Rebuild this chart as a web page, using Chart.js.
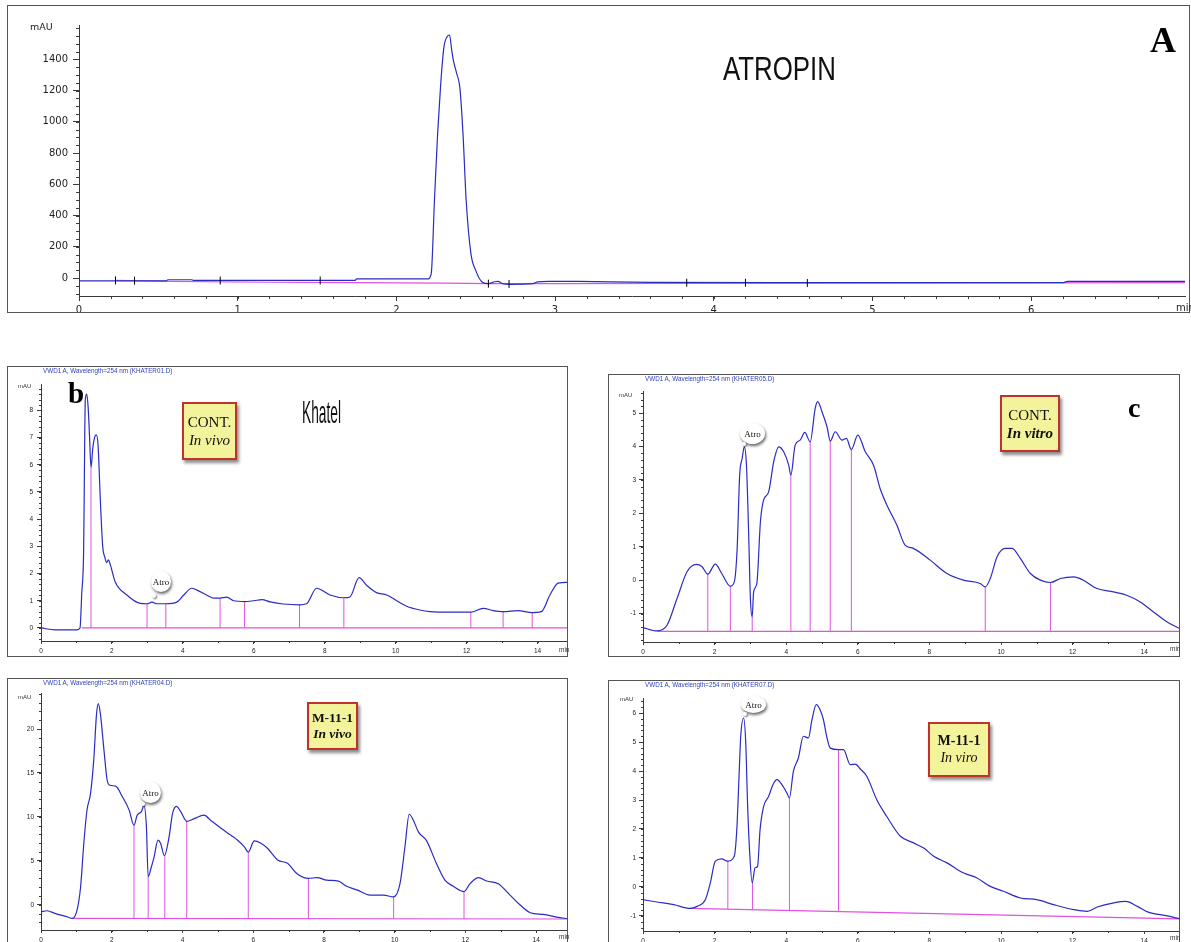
<!DOCTYPE html>
<html>
<head>
<meta charset="utf-8">
<script src="https://cdn.jsdelivr.net/npm/chart.js@4.4.1/dist/chart.umd.min.js"></script>
<style>
  html, body { margin: 0; padding: 0; background: #fff; }
  body { position: relative; width: 1191px; height: 942px; overflow: hidden; font-family: "Liberation Sans", Arial, sans-serif; }
  canvas { position: absolute; }
  .frame { position: absolute; box-sizing: border-box; border: 1.5px solid #555; pointer-events: none; }
  .txt { position: absolute; white-space: nowrap; line-height: 1; color: #111; }
  .hdr { position: absolute; white-space: nowrap; line-height: 1; font-size: 6.3px; color: #3040c0; }
  .mau { position: absolute; white-space: nowrap; line-height: 1; font-size: 6px; color: #333; }
  .unit { position: absolute; white-space: nowrap; line-height: 1; font-size: 6.5px; color: #333; }
  .letter { position: absolute; line-height: 1; font-family: "Liberation Serif", serif; font-weight: bold; color: #000; }
  .cond { position: absolute; line-height: 1; white-space: nowrap; transform-origin: left top; color: #111; }
  .tag { position: absolute; box-sizing: border-box; background: #f3f39c; border: 2px solid #c3322a;
         box-shadow: 2px 3px 3px rgba(0,0,0,.45); font-family: "Liberation Serif", serif; text-align: center;
         display: flex; flex-direction: column; justify-content: center; line-height: 1.2; color: #111; }
  .cloud { position: absolute; background: #fff; border-radius: 50%; box-shadow: 1px 2px 3px rgba(0,0,0,.6);
           font-family: "Liberation Serif", serif; font-size: 9px; display: flex; align-items: center; justify-content: center; color: #111; }
  .dot { position: absolute; width: 4px; height: 4px; border-radius: 50%; background: #fff; box-shadow: 1px 1px 2px rgba(0,0,0,.6); }
</style>
</head>
<body>

<!-- panel A -->
<canvas id="chartA" width="1183" height="308" style="left:7px;top:5px"></canvas>
<div class="frame" style="left:7px;top:5px;width:1183px;height:308px"></div>
<div class="txt" style="left:30px;top:22px;font-family:'DejaVu Sans';font-size:9.5px;color:#222">mAU</div>
<div class="txt" style="left:1176px;top:303px;font-family:'DejaVu Sans';font-size:10px;color:#222">min</div>
<div class="cond" style="left:723px;top:51px;font-size:34px;transform:scaleX(0.76)">ATROPIN</div>
<div class="letter" style="left:1150px;top:22px;font-size:36px">A</div>

<!-- panel b -->
<canvas id="chartB" width="561" height="291" style="left:7px;top:366px"></canvas>
<div class="frame" style="left:7px;top:366px;width:561px;height:291px"></div>
<div class="hdr" style="left:43px;top:368px">VWD1 A, Wavelength=254 nm (KHATER01.D)</div>
<div class="mau" style="left:18px;top:383px">mAU</div>
<div class="unit" style="left:559px;top:647px">min</div>
<div class="letter" style="left:68px;top:379px;font-size:29px">b</div>
<div class="tag" style="left:182px;top:402px;width:55px;height:58px;font-size:15px"><span>CONT.</span><i>In vivo</i></div>
<div class="cond" style="left:302px;top:396px;font-size:32px;transform:scaleX(0.43)">Khatel</div>
<div class="cloud" style="left:151px;top:571px;width:20px;height:21px">Atro</div>
<div class="dot" style="left:152px;top:594px"></div>

<!-- panel c -->
<canvas id="chartC" width="572" height="283" style="left:608px;top:374px"></canvas>
<div class="frame" style="left:608px;top:374px;width:572px;height:283px"></div>
<div class="hdr" style="left:645px;top:376px">VWD1 A, Wavelength=254 nm (KHATER05.D)</div>
<div class="mau" style="left:619px;top:392px">mAU</div>
<div class="unit" style="left:1170px;top:646px">min</div>
<div class="letter" style="left:1128px;top:394px;font-size:28px">c</div>
<div class="tag" style="left:1000px;top:395px;width:60px;height:57px;font-size:15px"><span>CONT.</span><b><i>In vitro</i></b></div>
<div class="cloud" style="left:740px;top:423px;width:25px;height:21px">Atro</div>
<div class="dot" style="left:742px;top:442px"></div>

<!-- panel d -->
<canvas id="chartD" width="561" height="280" style="left:7px;top:678px"></canvas>
<div class="frame" style="left:7px;top:678px;width:561px;height:290px"></div>
<div class="hdr" style="left:43px;top:680px">VWD1 A, Wavelength=254 nm (KHATER04.D)</div>
<div class="mau" style="left:18px;top:694px">mAU</div>
<div class="unit" style="left:559px;top:934px">min</div>
<div class="tag" style="left:307px;top:702px;width:51px;height:48px;font-size:13.5px"><b>M-11-1</b><b><i>In vivo</i></b></div>
<div class="cloud" style="left:140px;top:782px;width:21px;height:21px">Atro</div>
<div class="dot" style="left:141px;top:802px"></div>

<!-- panel e -->
<canvas id="chartE" width="572" height="280" style="left:608px;top:680px"></canvas>
<div class="frame" style="left:608px;top:680px;width:572px;height:290px"></div>
<div class="hdr" style="left:645px;top:682px">VWD1 A, Wavelength=254 nm (KHATER07.D)</div>
<div class="mau" style="left:620px;top:696px">mAU</div>
<div class="unit" style="left:1170px;top:935px">min</div>
<div class="tag" style="left:928px;top:722px;width:62px;height:55px;font-size:14px"><b>M-11-1</b><i>In viro</i></div>
<div class="cloud" style="left:741px;top:696px;width:25px;height:17px">Atro</div>
<div class="dot" style="left:743px;top:712px"></div>

<script>
// ---------- A: atropine standard ----------
const timeA = [0, 0.55, 0.56, 0.71, 0.72, 1.74, 1.75, 2.2, 2.22, 2.24,
  2.26, 2.28, 2.3, 2.32, 2.335, 2.35, 2.36, 2.38, 2.4, 2.42,
  2.44, 2.47, 2.5, 2.54, 2.58, 2.62, 2.64, 2.67, 2.72, 2.86,
  2.89, 2.96, 3.15, 3.6, 4.6, 6.2, 6.23, 6.97];
const mauA = [-18, -18, -11, -11, -15, -15, -6, -6, 30, 496,
  923, 1250, 1480, 1545, 1556, 1450, 1391, 1310, 1221, 923,
  496, 156, 49, -25, -36, -24, -21, -36, -40, -36,
  -25, -21, -22, -28, -30, -30, -22, -22];
const baseTimeA = [0.23, 0.6, 1.2, 1.75, 2.3, 2.6, 3.0, 3.8, 4.6, 6.97];
const baseMauA = [-15, -22, -27, -29, -33, -36, -36, -34, -32, -30];
const markTimeA = [0.23, 0.35, 0.89, 1.52, 2.58, 2.71, 3.83, 4.2, 4.59];
const markMauA = [-15, -17, -16, -16, -36, -38, -30, -30, -31];
const xTicksA = [0, 1, 2, 3, 4, 5, 6];
const yTicksA = [0, 200, 400, 600, 800, 1000, 1200, 1400];
const rangeA = [0, 6.97, -115, 1620];

// ---------- b: CONT. in vivo ----------
const timeB = [0, 0.4, 1.0, 1.1, 1.15, 1.2, 1.25, 1.29, 1.33, 1.37,
  1.41, 1.46, 1.51, 1.56, 1.61, 1.67, 1.74, 1.8, 1.85, 1.9,
  1.96, 2.09, 2.42, 2.8, 2.99, 3.13, 3.27, 3.52, 3.83, 4.02,
  4.25, 4.39, 4.68, 4.86, 5.05, 5.24, 5.43, 5.74, 6.0, 6.23,
  6.46, 6.83, 7.29, 7.49, 7.77, 8.15, 8.54, 8.71, 8.97, 9.18,
  9.46, 9.75, 10.03, 10.31, 10.68, 10.97, 11.53, 12.12, 12.47, 12.75,
  13.03, 13.45, 13.85, 14.11, 14.35, 14.58, 14.86];
const mauB = [0, -0.07, -0.07, 0, 1.3, 2.7, 8.4, 8.6, 8.1, 7.0,
  5.9, 6.6, 7.0, 7.1, 6.7, 4.8, 3.0, 2.6, 2.4, 2.5,
  2.3, 1.7, 1.21, 0.9, 0.89, 0.95, 0.89, 0.89, 0.95, 1.2,
  1.46, 1.4, 1.2, 1.1, 1.1, 1.13, 1.0, 0.97, 1.0, 1.04,
  0.96, 0.88, 0.85, 0.89, 1.46, 1.21, 1.11, 1.14, 1.85, 1.57,
  1.3, 1.21, 1.0, 0.8, 0.66, 0.6, 0.58, 0.58, 0.72, 0.64,
  0.6, 0.64, 0.56, 0.6, 1.21, 1.65, 1.68];
const dropTimeB = [1.41, 2.99, 3.52, 5.05, 5.74, 7.29, 8.54, 12.12, 13.03, 13.85, 14.86];
const dropTopB = [5.9, 0.89, 0.89, 1.1, 0.97, 0.85, 1.11, 0.58, 0.6, 0.56, 1.68];
const dropBaseB = 0;
const baseTimeB = [1.15, 14.86];
const baseMauB = [0, 0];
const xTicksB = [0, 2, 4, 6, 8, 10, 12, 14];
const yTicksB = [0, 1, 2, 3, 4, 5, 6, 7, 8];
const rangeB = [0, 14.86, -0.48, 8.97];

// ---------- c: CONT. in vitro ----------
const timeC = [0, 0.39, 0.67, 0.95, 1.23, 1.49, 1.65, 1.81, 2.02, 2.2,
  2.44, 2.55, 2.63, 2.7, 2.77, 2.83, 2.89, 2.95, 3.0, 3.05,
  3.09, 3.18, 3.28, 3.37, 3.51, 3.65, 3.79, 3.93, 4.07, 4.13,
  4.25, 4.39, 4.52, 4.67, 4.81, 4.88, 5.0, 5.14, 5.23, 5.37,
  5.56, 5.68, 5.82, 6.0, 6.21, 6.44, 6.63, 6.81, 7.09, 7.32,
  7.55, 8.02, 8.49, 8.95, 9.42, 9.56, 9.7, 9.89, 10.12, 10.31,
  10.54, 10.82, 11.1, 11.38, 11.66, 12.03, 12.3, 12.68, 13.14, 13.51,
  13.89, 14.26, 14.64, 15.0];
const mauC = [-1.42, -1.52, -1.35, -0.55, 0.25, 0.47, 0.4, 0.18, 0.48, 0.2,
  -0.18, -0.05, 0.95, 3.14, 3.64, 3.99, 3.44, 1.45, -0.55, -1.1,
  -0.35, -0.1, 1.75, 2.4, 2.64, 3.54, 3.99, 3.84, 3.44, 3.14,
  4.04, 4.19, 4.42, 4.14, 5.14, 5.34, 5.04, 4.59, 4.16, 4.44,
  4.19, 4.24, 3.91, 4.34, 3.84, 3.44, 2.72, 2.25, 1.65, 1.05,
  0.95, 0.6, 0.2, 0.0, -0.1, -0.2, 0.05, 0.7, 0.95, 0.95,
  0.65, 0.2, 0.0, -0.07, 0.05, 0.1, 0.0, -0.25, -0.35, -0.45,
  -0.65, -0.95, -1.25, -1.45];
const dropTimeC = [1.81, 2.44, 3.05, 4.13, 4.67, 5.23, 5.82, 9.56, 11.38];
const dropTopC = [0.18, -0.18, -1.1, 3.14, 4.14, 4.16, 3.91, -0.2, -0.07];
const dropBaseC = -1.53;
const baseTimeC = [0.4, 15];
const baseMauC = [-1.53, -1.53];
const xTicksC = [0, 2, 4, 6, 8, 10, 12, 14];
const yTicksC = [-1, 0, 1, 2, 3, 4, 5];
const rangeC = [0, 15, -1.85, 5.66];

// ---------- d: M-11-1 in vivo ----------
const timeD = [0, 0.17, 0.41, 0.74, 0.88, 1.02, 1.12, 1.21, 1.3, 1.4,
  1.49, 1.57, 1.62, 1.68, 1.78, 1.87, 1.95, 2.11, 2.3, 2.49,
  2.63, 2.72, 2.84, 2.91, 2.98, 3.03, 3.12, 3.19, 3.31, 3.38,
  3.49, 3.62, 3.72, 3.83, 3.95, 4.12, 4.33, 4.61, 4.8, 5.09,
  5.37, 5.56, 5.75, 5.86, 6.03, 6.22, 6.41, 6.69, 6.98, 7.23,
  7.56, 7.8, 8.08, 8.41, 8.64, 8.93, 9.3, 9.68, 9.97, 10.15,
  10.29, 10.41, 10.53, 10.67, 10.9, 11.18, 11.42, 11.66, 11.96, 12.13,
  12.37, 12.6, 12.93, 13.26, 13.54, 13.83, 14.2, 14.58, 14.9];
const mauD = [-0.8, -0.68, -1.0, -1.36, -1.55, -0.6, 2.05, 6.97, 10.76, 12.65,
  16.4, 21.7, 22.9, 21.7, 17.6, 14.2, 13.6, 13.5, 12.3, 10.8,
  9.05, 10.2, 10.6, 11.3, 8.9, 3.2, 4.3, 5.3, 7.35, 7.0,
  5.6, 7.7, 10.4, 11.2, 10.6, 9.5, 9.8, 10.2, 9.6, 8.7,
  7.9, 7.35, 6.6, 6.0, 7.27, 7.0, 6.4, 5.1, 4.7, 3.55,
  3.0, 3.1, 2.8, 2.7, 2.1, 1.7, 1.1, 1.1, 0.9, 2.4,
  6.6, 10.3, 9.6, 8.3, 7.3, 4.7, 2.8, 2.1, 1.5, 2.4,
  3.1, 2.7, 2.4, 1.1, 0.0, -0.9, -1.1, -1.4, -1.6];
const dropTimeD = [2.63, 3.03, 3.5, 4.12, 5.86, 7.56, 9.97, 11.96];
const dropTopD = [9.05, 3.2, 5.6, 9.5, 6.0, 3.0, 0.9, 1.5];
const dropBaseD = -1.6;
const baseTimeD = [0.88, 14.9];
const baseMauD = [-1.55, -1.62];
const xTicksD = [0, 2, 4, 6, 8, 10, 12, 14];
const yTicksD = [0, 5, 10, 15, 20];
const rangeD = [0, 14.9, -2.87, 24.1];

// ---------- e: M-11-1 in vitro ----------
const timeE = [0, 0.39, 0.86, 1.32, 1.51, 1.74, 1.88, 2.02, 2.2, 2.36,
  2.55, 2.62, 2.69, 2.73, 2.81, 2.87, 2.92, 2.98, 3.05, 3.13,
  3.2, 3.27, 3.37, 3.51, 3.63, 3.74, 3.88, 4.02, 4.09, 4.2,
  4.34, 4.48, 4.62, 4.72, 4.84, 4.95, 5.04, 5.13, 5.23, 5.46,
  5.6, 5.79, 5.93, 6.07, 6.25, 6.53, 6.81, 7.19, 7.56, 7.84,
  8.12, 8.49, 8.96, 9.33, 9.7, 10.07, 10.54, 11.0, 11.47, 12.03,
  12.41, 12.69, 13.15, 13.48, 13.81, 14.09, 14.65, 15.0];
const mauE = [-0.44, -0.52, -0.61, -0.74, -0.67, -0.44, 0.14, 0.89, 0.97, 0.89,
  1.06, 1.98, 4.05, 5.2, 5.83, 4.97, 2.9, 1.17, 0.14, 0.66,
  0.71, 1.98, 2.78, 3.13, 3.53, 3.7, 3.53, 3.24, 3.07, 3.99,
  4.45, 5.2, 5.14, 5.77, 6.29, 6.11, 5.77, 5.2, 4.79, 4.74,
  4.74, 4.22, 4.24, 4.07, 3.82, 3.01, 2.43, 1.75, 1.52, 1.34,
  1.06, 0.83, 0.48, 0.31, 0.02, -0.15, -0.38, -0.44, -0.61, -0.78,
  -0.84, -0.69, -0.55, -0.5, -0.67, -0.86, -1.0, -1.1];
const dropTimeE = [2.37, 3.06, 4.09, 5.46];
const dropTopE = [0.89, 0.14, 3.07, 4.74];
const dropBaseE = [-0.77, -0.79, -0.81, -0.85];
const baseTimeE = [1.32, 15];
const baseMauE = [-0.74, -1.1];
const xTicksE = [0, 2, 4, 6, 8, 10, 12, 14];
const yTicksE = [-1, 0, 1, 2, 3, 4, 5, 6];
const rangeE = [0, 15, -1.52, 6.52];

const BLUE = '#2b2bc4';
const PINK = '#e052e0';
const AXIS = '#3a3a3a';

function pts(xs, ys) {
  return xs.map((x, i) => ({ x: x, y: ys[i] }));
}

function dropPts(xs, base, tops) {
  const out = [];
  xs.forEach((x, i) => {
    const b = Array.isArray(base) ? base[i] : base;
    out.push({ x: x, y: b }, { x: x, y: tops[i] }, { x: x, y: null });
  });
  return out;
}

// short unlabeled ticks between the labelled ones
const minorTicks = {
  id: 'minorTicks',
  afterDraw(chart, args, opts) {
    const { ctx, chartArea: a, scales: { x, y } } = chart;
    ctx.save();
    ctx.strokeStyle = AXIS;
    ctx.lineWidth = 1;
    ctx.beginPath();
    for (let i = Math.ceil(x.min / opts.x); i * opts.x <= x.max; i++) {
      const px = Math.round(x.getPixelForValue(i * opts.x)) + 0.5;
      ctx.moveTo(px, a.bottom);
      ctx.lineTo(px, a.bottom + opts.len);
    }
    for (let i = Math.ceil(y.min / opts.y); i * opts.y <= y.max; i++) {
      const py = Math.round(y.getPixelForValue(i * opts.y)) + 0.5;
      ctx.moveTo(a.left, py);
      ctx.lineTo(a.left - opts.len, py);
    }
    ctx.stroke();
    ctx.restore();
  }
};

function chromatogram(id, d, L) {
  const datasets = [
    { data: pts(d.t, d.v), borderColor: BLUE, borderWidth: 1.2, pointRadius: 0, cubicInterpolationMode: 'monotone' },
    { data: pts(d.baseT, d.baseV), borderColor: PINK, borderWidth: 1.2, pointRadius: 0, tension: 0 }
  ];
  if (d.dropT) {
    datasets.push({ data: dropPts(d.dropT, d.dropBase, d.dropTop), borderColor: PINK, borderWidth: 1, pointRadius: 0, tension: 0, spanGaps: false });
  }
  if (d.markT) {
    datasets.unshift({ data: pts(d.markT, d.markV), showLine: false, pointStyle: 'line', rotation: 90, pointRadius: 4, borderColor: '#000', borderWidth: 1 });
  }
  const font = { family: L.font, size: L.fs };
  return new Chart(document.getElementById(id), {
    type: 'line',
    data: { datasets: datasets },
    options: {
      responsive: false,
      animation: false,
      events: [],
      layout: { padding: { top: L.padTop, left: 0, right: 0, bottom: 0 } },
      plugins: {
        legend: { display: false },
        tooltip: { enabled: false },
        minorTicks: { x: L.minorX, y: L.minorY, len: L.minorLen }
      },
      scales: {
        x: {
          type: 'linear', min: d.range[0], max: d.range[1],
          afterBuildTicks: s => { s.ticks = d.xTicks.map(v => ({ value: v })); },
          afterFit: s => { s.height = L.xH; },
          grid: { drawOnChartArea: false, drawTicks: true, tickLength: L.xTick, color: AXIS },
          border: { display: true, color: AXIS, width: 1 },
          ticks: { font: font, color: '#222', padding: L.xPad, maxRotation: 0, autoSkip: false, callback: v => String(v) }
        },
        y: {
          type: 'linear', min: d.range[2], max: d.range[3],
          afterBuildTicks: s => { s.ticks = d.yTicks.map(v => ({ value: v })); },
          afterFit: s => { s.width = L.yW; },
          grid: { drawOnChartArea: false, drawTicks: true, tickLength: L.yTick, color: AXIS },
          border: { display: true, color: AXIS, width: 1 },
          ticks: { font: font, color: '#222', padding: L.yPad, autoSkip: false, callback: v => String(v) }
        }
      }
    },
    plugins: [minorTicks]
  });
}

chromatogram('chartA',
  { t: timeA, v: mauA, baseT: baseTimeA, baseV: baseMauA, markT: markTimeA, markV: markMauA, xTicks: xTicksA, yTicks: yTicksA, range: rangeA },
  { yW: 72, padTop: 20, xH: 17, xTick: 5, yTick: 6, xPad: 3, yPad: 5, font: 'DejaVu Sans', fs: 10, minorX: 0.2, minorY: 50, minorLen: 3 });

chromatogram('chartB',
  { t: timeB, v: mauB, baseT: baseTimeB, baseV: baseMauB, dropT: dropTimeB, dropTop: dropTopB, dropBase: dropBaseB, xTicks: xTicksB, yTicks: yTicksB, range: rangeB },
  { yW: 34, padTop: 18, xH: 16, xTick: 3, yTick: 4, xPad: 3, yPad: 4, font: 'Liberation Sans', fs: 6.5, minorX: 1, minorY: 0.2, minorLen: 2 });

chromatogram('chartC',
  { t: timeC, v: mauC, baseT: baseTimeC, baseV: baseMauC, dropT: dropTimeC, dropTop: dropTopC, dropBase: dropBaseC, xTicks: xTicksC, yTicks: yTicksC, range: rangeC },
  { yW: 35, padTop: 17, xH: 15, xTick: 3, yTick: 4, xPad: 3, yPad: 3, font: 'Liberation Sans', fs: 6.5, minorX: 1, minorY: 0.2, minorLen: 2 });

chromatogram('chartD',
  { t: timeD, v: mauD, baseT: baseTimeD, baseV: baseMauD, dropT: dropTimeD, dropTop: dropTopD, dropBase: dropBaseD, xTicks: xTicksD, yTicks: yTicksD, range: rangeD },
  { yW: 34, padTop: 15, xH: 28, xTick: 3, yTick: 4, xPad: 3, yPad: 3, font: 'Liberation Sans', fs: 6.5, minorX: 1, minorY: 1, minorLen: 2 });

chromatogram('chartE',
  { t: timeE, v: mauE, baseT: baseTimeE, baseV: baseMauE, dropT: dropTimeE, dropTop: dropTopE, dropBase: dropBaseE, xTicks: xTicksE, yTicks: yTicksE, range: rangeE },
  { yW: 35, padTop: 18, xH: 29, xTick: 3, yTick: 4, xPad: 3, yPad: 3, font: 'Liberation Sans', fs: 6.5, minorX: 1, minorY: 0.2, minorLen: 2 });
</script>
</body>
</html>
